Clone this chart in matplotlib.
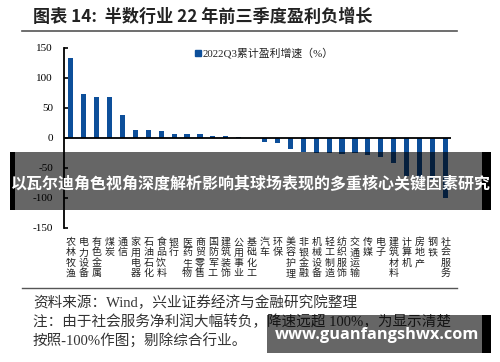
import matplotlib
matplotlib.use("Agg")
import matplotlib.pyplot as plt
from matplotlib.patches import Rectangle
from matplotlib.lines import Line2D
import matplotlib.transforms as mtransforms

plt.rcParams['font.family'] = ['Noto Sans CJK SC', 'DejaVu Sans']

categories = ["农林牧渔", "电力设备", "有色金属", "煤炭", "通信", "家用电器", "石油石化",
              "食品饮料", "银行", "医药生物", "商贸零售", "国防军工", "建筑装饰", "公用事业",
              "基础化工", "汽车", "环保", "美容护理", "非银金融", "机械设备", "轻工制造",
              "纺织服饰", "交通运输", "传媒", "电子", "建筑材料", "计算机", "房地产",
              "钢铁", "社会服务"]
growth = [133, 73, 69, 68, 38, 13.5, 13, 12, 7, 7, 6, 4, 3.5, 2,
          0, -6, -8, -18, -23, -25, -25, -26, -25, -28, -31, -42, -63, -66, -68, -100]
yticks = [150, 100, 50, 0, -50, -100, -150]

title = "图表 14:  半数行业 22 年前三季度盈利负增长"
legend_label = "2022Q3累计盈利增速（%）"
source = "资料来源：Wind，兴业证券经济与金融研究院整理"
note1 = "注：由于社会服务净利润大幅转负，降速远超 100%，为显示清楚"
note2 = "按照-100%作图；剔除综合行业。"
banner = "以瓦尔迪角色视角深度解析影响其球场表现的多重核心关键因素研究"
site = "www.guanfangshwx.com"

W, H = 500, 362
fig = plt.figure(figsize=(W / 100, H / 100), dpi=100)
fig.patch.set_facecolor('white')

def fx(px):
    return px / W

def fy(py):
    return 1 - py / H

# axes
ax_l, ax_r, ax_t, ax_b = 64, 451, 48, 228
ax = fig.add_axes([fx(ax_l), fy(ax_b), fx(ax_r - ax_l), (ax_b - ax_t) / H])
x = list(range(len(categories)))
bar_color = '#0d4f9a'
ax.bar(x, growth, width=0.4, color=bar_color, zorder=2)
ax.set_ylim(-150, 150)
ax.set_xlim(-0.52, 29.43)
ax.axhline(0, color='black', lw=1.3, zorder=3)
for s in ['top', 'right', 'bottom']:
    ax.spines[s].set_visible(False)
ax.spines['left'].set_linewidth(1.3)
ax.set_xticks([])
ax.set_yticks(yticks)
ax.set_yticklabels([str(v) for v in yticks], family=['Liberation Serif'], fontsize=8)
ax.tick_params(axis='y', direction='in', length=3, width=1.2, pad=8)
ax.patch.set_alpha(0)

# category labels (vertical stacked)
trans = mtransforms.blended_transform_factory(ax.transData, fig.transFigure)
for i, c in enumerate(categories):
    ax.text(i, fy(237), "\n".join(c), transform=trans, ha='center', va='top',
            fontsize=7.2, linespacing=1.05, color='#222222')

# legend
fig.patches.append(Rectangle((fx(195), fy(56)), fx(6), 6 / H, transform=fig.transFigure,
                             color=bar_color))
fig.text(fx(202.5), fy(53), legend_label, fontsize=7.8, va='center', ha='left',
         color='#222222', family=['Liberation Serif', 'Noto Sans CJK SC'])

# title and rules
fig.text(fx(33), fy(17), title, fontsize=12.3, fontweight='bold', va='center', ha='left',
         color='#222222')
fig.add_artist(Line2D([fx(22), fx(457)], [fy(31), fy(31)], color='#555555', lw=1.2))
fig.add_artist(Line2D([fx(22), fx(457)], [fy(288), fy(288)], color='#555555', lw=1.0))

# source & notes
for txt, yy in [(source, 303), (note1, 322), (note2, 341)]:
    fig.text(fx(33), fy(yy), txt, fontsize=10.5, va='center', ha='left', color='#333333',
             family=['Liberation Serif', 'Noto Sans CJK SC'])

# overlay banner
fig.patches.append(Rectangle((fx(10), fy(210)), fx(482 - 10), (210 - 152) / H,
                             transform=fig.transFigure, facecolor='black', alpha=0.6,
                             edgecolor='none', zorder=10))
fig.patches.append(Rectangle((fx(10), fy(210)), fx(5), (210 - 152) / H,
                             transform=fig.transFigure, facecolor='black', edgecolor='none',
                             zorder=11))
fig.patches.append(Rectangle((fx(482), fy(210)), fx(9), (210 - 152) / H,
                             transform=fig.transFigure, facecolor='black', edgecolor='none',
                             zorder=11))
fig.text(fx(251), fy(184), banner, fontsize=11.5, fontweight='bold', color='white',
         ha='center', va='center', zorder=12)

# overlay site box
fig.patches.append(Rectangle((fx(267), fy(353)), fx(482 - 267), (353 - 315) / H,
                             transform=fig.transFigure, facecolor='black', alpha=0.6,
                             edgecolor='none', zorder=10))
fig.patches.append(Rectangle((fx(482), fy(353)), fx(9), (353 - 315) / H,
                             transform=fig.transFigure, facecolor='black', edgecolor='none',
                             zorder=11))
fig.text(fx(377), fy(335), site, fontsize=11.8, fontweight='bold', color='white',
         ha='center', va='center', zorder=12, family=['Open Sans', 'DejaVu Sans'])

fig.savefig('out.png', dpi=100)
